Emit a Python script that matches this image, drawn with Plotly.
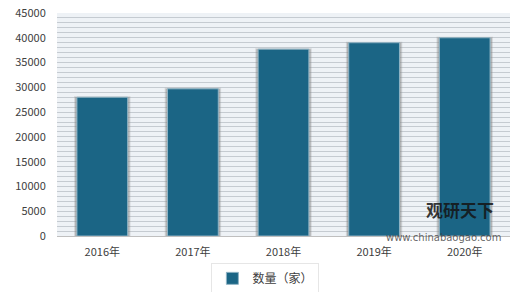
import plotly.graph_objects as go

categories = ["2016年", "2017年", "2018年", "2019年", "2020年"]
values = [28000, 29700, 37700, 39000, 40000]
series_name = "数量（家）"
y_ticks = [0, 5000, 10000, 15000, 20000, 25000, 30000, 35000, 40000, 45000]
y_tick_text = [str(v) for v in y_ticks]

fig = go.Figure()
# shadow layer
fig.add_trace(go.Bar(
    x=categories, y=values, width=0.6, showlegend=False, hoverinfo="skip",
    marker=dict(color="rgba(110,110,110,0.4)", line=dict(width=2, color="rgba(150,150,150,0.3)")),
))
fig.add_trace(go.Bar(
    x=categories, y=values, name=series_name, width=0.56,
    marker=dict(color="#1b6585", line=dict(width=1, color="#8fb3c4")),
))
fig.update_layout(
    width=520, height=292,
    margin=dict(l=57, r=10, t=13, b=56, autoexpand=False),
    barmode="overlay",
    paper_bgcolor="white",
    plot_bgcolor="#eef2f6",
    font=dict(family="Noto Sans CJK SC, DejaVu Sans", size=11, color="#404040"),
    showlegend=True,
    legend=dict(orientation="h", x=0.46, xanchor="center", y=-0.19, yanchor="middle",
                bgcolor="white", bordercolor="#e6e6e6", borderwidth=1,
                font=dict(size=12, color="#404040"),
                itemwidth=30),
    xaxis=dict(showline=True, linecolor="#bfbfbf", ticks="outside", ticklen=6,
               tickcolor="rgba(0,0,0,0)", tickfont=dict(size=11), automargin=False),
    yaxis=dict(range=[0, 45000], tickvals=y_ticks, ticktext=y_tick_text, showgrid=True,
               gridcolor="#c5cbd1", gridwidth=1, zeroline=False, showline=False,
               minor=dict(dtick=1000, showgrid=True, gridcolor="#c5cbd1", gridwidth=1),
               tickfont=dict(size=11), ticks="outside", ticklen=8,
               tickcolor="rgba(0,0,0,0)", automargin=False),
)
fig.add_annotation(text="<b>观研天下</b>", x=0.97, y=0.12, xref="paper", yref="paper",
                   xanchor="right", yanchor="middle", showarrow=False,
                   font=dict(size=17, color="rgba(20,20,20,0.85)"))
fig.add_annotation(text="www.chinabaogao.com", x=0.985, y=-0.005, xref="paper", yref="paper",
                   xanchor="right", yanchor="middle", showarrow=False,
                   font=dict(size=10, color="rgba(60,60,60,0.8)", family="DejaVu Sans"))
fig.write_html("out.html")
